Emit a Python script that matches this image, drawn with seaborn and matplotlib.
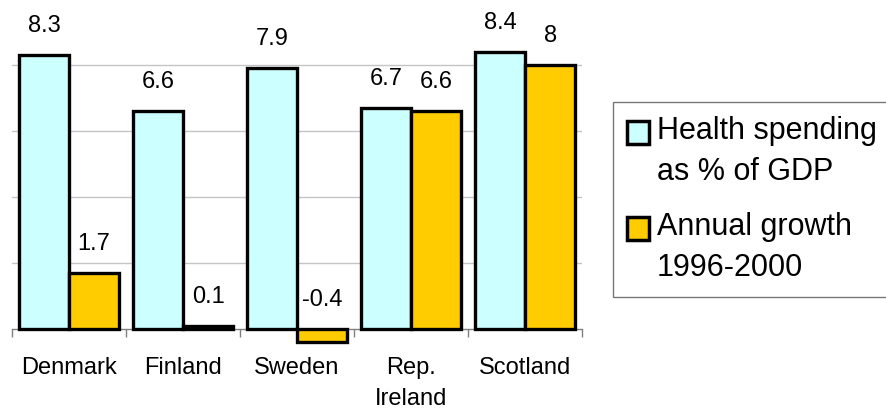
import matplotlib
matplotlib.use("Agg")
import matplotlib.pyplot as plt
from matplotlib.patches import Patch, Rectangle
from matplotlib.legend_handler import HandlerPatch
from matplotlib.ticker import FixedLocator
import seaborn as sns
import pandas as pd

countries = ["Denmark", "Finland", "Sweden", "Rep.\nIreland", "Scotland"]
health_spending = [8.3, 6.6, 7.9, 6.7, 8.4]
annual_growth = [1.7, 0.1, -0.4, 6.6, 8.0]
series_names = ["Health spending\nas % of GDP", "Annual growth\n1996-2000"]
colors = ["#CCFFFF", "#FFCC00"]

df = pd.DataFrame({
    "country": countries * 2,
    "value": health_spending + annual_growth,
    "series": [series_names[0]] * len(countries) + [series_names[1]] * len(countries),
})

sns.set_theme(style="white")
plt.rcParams["font.family"] = ["Liberation Sans", "DejaVu Sans"]
plt.rcParams["text.color"] = "black"

W, H = 887, 411
fig = plt.figure(figsize=(W / 100, H / 100), dpi=100)
ax = fig.add_axes([12 / W, 49 / H, 570 / W, 361.35 / H])

sns.barplot(data=df, x="country", y="value", hue="series", palette=colors,
            width=0.88, edgecolor="black", linewidth=2.4, saturation=1,
            legend=False, ax=ax, zorder=3)

ax.set_xlim(-0.5, len(countries) - 0.5)
ax.set_ylim(-1, 9.95)

# gridlines
ax.set_yticks([2, 4, 6, 8])
ax.yaxis.grid(True, color="#C4C4C4", linewidth=1, zorder=0)
ax.tick_params(axis="y", left=False, labelleft=False)
ax.set_axisbelow(True)

for s in ["left", "right", "top"]:
    ax.spines[s].set_visible(False)
ax.spines["bottom"].set_position(("data", 0))
ax.spines["bottom"].set_color("#808080")
ax.spines["bottom"].set_linewidth(1)

ax.xaxis.set_minor_locator(FixedLocator([i - 0.5 for i in range(len(countries) + 1)]))
ax.tick_params(axis="x", which="major", length=0, pad=20, labelsize=17, labelcolor="black")
ax.tick_params(axis="x", which="minor", length=6, width=1, color="#808080", direction="out", bottom=True)
for lbl in ax.get_xticklabels():
    lbl.set_linespacing(1.55)
ax.set_xlabel("")
ax.set_ylabel("")

# value labels
for container, vals in zip(ax.containers, [health_spending, annual_growth]):
    for bar, v in zip(container, vals):
        xc = bar.get_x() + bar.get_width() / 2
        ax.annotate(f"{v:g}", (xc, max(v, 0)), xytext=(0, 16.5), textcoords="offset points",
                    ha="center", va="baseline", fontsize=17, color="black")


# legend: handle aligned with the first line of a two-line label
class TopLineHandler(HandlerPatch):
    def create_artists(self, legend, orig_handle, xdescent, ydescent, width, height, fontsize, trans):
        shift = 0.66 * fontsize
        p = Rectangle((-xdescent, -ydescent + shift), width, height,
                      facecolor=orig_handle.get_facecolor(), edgecolor="black",
                      linewidth=orig_handle.get_linewidth())
        p.set_transform(trans)
        return [p]


handles = [Patch(facecolor=c, edgecolor="black", linewidth=2.5) for c in colors]
leg = fig.legend(handles, series_names, loc="upper left", bbox_to_anchor=(613 / W, 1 - 102 / H),
                 fontsize=22, frameon=True, fancybox=False, handlelength=0.72, handleheight=0.78,
                 handletextpad=0.26, labelspacing=0.8, borderpad=0.45, borderaxespad=0,
                 labelcolor="black", handler_map={Patch: TopLineHandler()})
for t in leg.get_texts():
    t.set_linespacing(1.5)
leg.get_frame().set_edgecolor("#555555")
leg.get_frame().set_linewidth(1)

fig.savefig("out.png", dpi=100)
